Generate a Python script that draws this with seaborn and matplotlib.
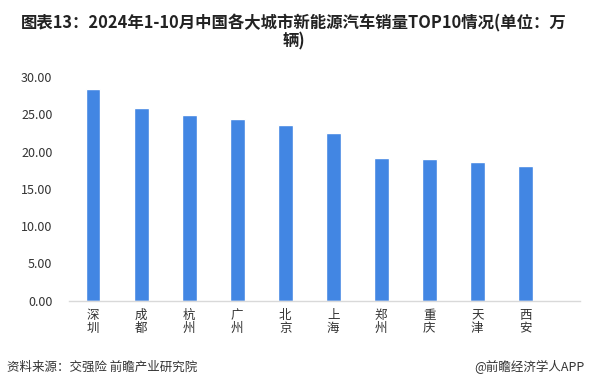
import matplotlib.pyplot as plt
import pandas as pd
import seaborn as sns

cities = ['深圳', '成都', '杭州', '广州', '北京', '上海', '郑州', '重庆', '天津', '西安']
sales = [28.4, 25.9, 24.9, 24.4, 23.6, 22.5, 19.2, 19.0, 18.6, 18.1]
y_ticks = [0, 5, 10, 15, 20, 25, 30]

title = '图表13：2024年1-10月中国各大城市新能源汽车销量TOP10情况(单位：万\n辆)'
source = '资料来源：交强险 前瞻产业研究院'
brand = '@前瞻经济学人APP'

sns.set_style('white')
plt.rcParams['font.family'] = ['Noto Sans CJK SC', 'DejaVu Sans']

df = pd.DataFrame({'city': cities, 'sales': sales})

fig = plt.figure(figsize=(5.92, 3.88), dpi=100)
ax = fig.add_axes([0.1166, 0.2255, 0.8631, 0.5753])

sns.barplot(data=df, x='city', y='sales', color='#4286E3', saturation=1,
            width=0.31, ax=ax)

ax.set_xlim(-0.5, 10.14)
ax.set_ylim(0, 30)
ax.set_yticks(y_ticks)
ax.set_yticklabels([f'{v:.2f}' for v in y_ticks], fontsize=9, color='#333333')
ax.set_xticks(range(len(cities)))
ax.set_xticklabels(['\n'.join(c) for c in cities], fontsize=9, color='#333333',
                   linespacing=1.0)
ax.tick_params(axis='y', length=0, pad=12)
ax.tick_params(axis='x', length=0, pad=6)
ax.set_xlabel('')
ax.set_ylabel('')

for side in ['top', 'right', 'left']:
    ax.spines[side].set_visible(False)
ax.spines['bottom'].set_color('#d9d9d9')
ax.spines['bottom'].set_linewidth(1)

fig.text(0.497, 0.962, title, ha='center', va='top', fontsize=11.8,
         fontweight='bold', color='#222222', linespacing=0.95)
fig.text(0.012, 0.054, source, ha='left', va='center', fontsize=9, color='#333333')
fig.text(0.988, 0.054, brand, ha='right', va='center', fontsize=9, color='#333333')

fig.savefig('out.png', dpi=100)
